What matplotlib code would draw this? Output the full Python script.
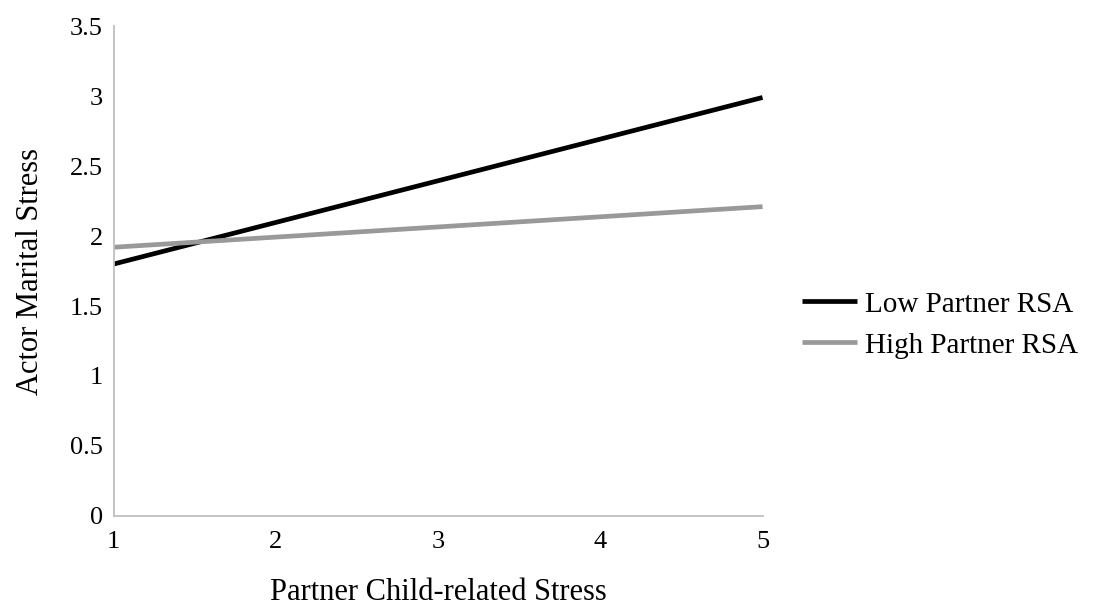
import matplotlib.pyplot as plt

plt.rcParams['font.family'] = ['Liberation Serif', 'DejaVu Serif']

x = [1, 5]
low_rsa = [1.8, 2.99]
high_rsa = [1.92, 2.21]
series_names = ["Low Partner RSA", "High Partner RSA"]
x_ticks = [1, 2, 3, 4, 5]
y_ticks = [0, 0.5, 1, 1.5, 2, 2.5, 3, 3.5]
y_tick_labels = ["0", "0.5", "1", "1.5", "2", "2.5", "3", "3.5"]

fig = plt.figure(figsize=(10.94, 6.07), dpi=100)
ax = fig.add_axes((0.104, 0.150, 0.593, 0.807))

ax.plot(x, low_rsa, color='black', lw=3.4, solid_capstyle='butt', label=series_names[0])
ax.plot(x, high_rsa, color='#999999', lw=3.4, solid_capstyle='butt', label=series_names[1])

ax.set_xlim(1, 5)
ax.set_ylim(0, 3.5)
ax.set_xticks(x_ticks)
ax.set_yticks(y_ticks)
ax.set_yticklabels(y_tick_labels)
ax.tick_params(length=0, labelsize=19, colors='black')
ax.tick_params(axis='x', pad=11)
ax.tick_params(axis='y', pad=8)

for s in ['top', 'right']:
    ax.spines[s].set_visible(False)
for s in ['left', 'bottom']:
    ax.spines[s].set_color('#BFBFBF')
    ax.spines[s].set_linewidth(1.3)

ax.set_xlabel("Partner Child-related Stress", fontsize=22, labelpad=18)
ax.set_ylabel("Actor Marital Stress", fontsize=22, labelpad=18)

ax.legend(loc='center left', bbox_to_anchor=(802 / 1094, 1 - 325 / 607),
          bbox_transform=fig.transFigure, frameon=False,
          fontsize=21, handlelength=1.9, handletextpad=0.25, labelspacing=0.5,
          borderaxespad=0, borderpad=0)

fig.savefig("out.png", dpi=100)
